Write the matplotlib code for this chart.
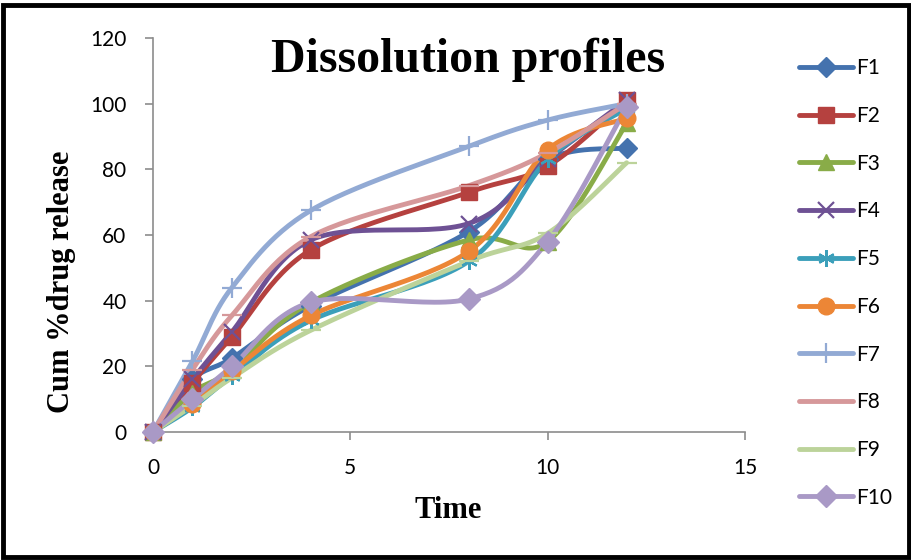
import numpy as np
import matplotlib
matplotlib.use('Agg')
import matplotlib.pyplot as plt
from matplotlib.patches import Rectangle
from matplotlib.lines import Line2D

# sampling times and cumulative % drug release per formulation
time = [0, 1, 2, 4, 8, 10, 12]
F1 = [0, 16, 22.5, 38.5, 61, 83, 86.5]
F2 = [0, 15, 29, 55.5, 73, 81, 101]
F3 = [0, 12, 19, 39.5, 58.5, 58, 94]
F4 = [0, 16, 30.5, 58.5, 63.5, 83, 101]
F5 = [0, 7.5, 17, 34, 52, 83, 98.5]
F6 = [0, 8.5, 18.5, 35.5, 55, 86, 95.5]
F7 = [0, 21.5, 44, 67.5, 87, 95, 100]
F8 = [0, 19, 35.5, 59.5, 75, 85, 100]
F9 = [0, 8, 16.5, 31, 52, 60.5, 82]
F10 = [0, 10, 20, 39.5, 40.5, 58, 99]

series = [('F1', F1), ('F2', F2), ('F3', F3), ('F4', F4), ('F5', F5),
          ('F6', F6), ('F7', F7), ('F8', F8), ('F9', F9), ('F10', F10)]

colors = ['#4472AE', '#B5413F', '#89AC48', '#6E5194', '#3B9FBA',
          '#EC8636', '#92AAD4', '#D6989A', '#BCD39A', '#A999C6']
markers = ['D', 's', '^', 'x', (6, 2, 0), 'o', '+', '_', '_', 'D']
msizes = [10, 12, 11, 11, 12, 12, 14, 14, 14, 11]


def smooth(x, y, n=30):
    """Excel-like smoothed line: Catmull-Rom through each point."""
    x = np.asarray(x, float)
    y = np.asarray(y, float)
    px = np.concatenate([[x[0]], x, [x[-1]]])
    py = np.concatenate([[y[0]], y, [y[-1]]])
    xs, ys = [], []
    t = np.linspace(0, 1, n)
    for i in range(1, len(px) - 2):
        p0, p1, p2, p3 = (np.array([px[j], py[j]]) for j in (i - 1, i, i + 1, i + 2))
        c1 = p1 + (p2 - p0) / 6.0
        c2 = p2 - (p3 - p1) / 6.0
        b = ((1 - t) ** 3)[:, None] * p1 + (3 * (1 - t) ** 2 * t)[:, None] * c1 \
            + (3 * (1 - t) * t ** 2)[:, None] * c2 + (t ** 3)[:, None] * p2
        xs.append(b[:, 0])
        ys.append(b[:, 1])
    return np.concatenate(xs), np.concatenate(ys)


fig = plt.figure(figsize=(9.12, 5.6), dpi=100)
ax = fig.add_axes([153 / 912, 1 - 432 / 560, (745 - 153) / 912, (432 - 38) / 560])

handles = []
for (name, vals), c, m, ms in zip(series, colors, markers, msizes):
    sx, sy = smooth(time, vals)
    ax.plot(sx, sy, color=c, lw=3.5, solid_capstyle='round', clip_on=False, zorder=2)
    mew = 1.6 if m in ('x', '+', '_') or isinstance(m, tuple) else 1
    ax.plot(time, vals, ls='none', marker=m, ms=ms, color=c, mec=c, mew=mew,
            clip_on=False, zorder=3)
    handles.append(Line2D([], [], color=c, lw=3.5, marker=m, ms=ms, mec=c, mew=mew,
                          solid_capstyle='round'))

ax.set_xlim(0, 15)
ax.set_ylim(0, 120)
ax.set_xticks([0, 5, 10, 15])
ax.set_yticks(range(0, 121, 20))
for s in ('top', 'right'):
    ax.spines[s].set_visible(False)
for s in ('left', 'bottom'):
    ax.spines[s].set_color('#8c8c8c')
    ax.spines[s].set_linewidth(1.2)
ax.tick_params(direction='out', length=6, width=1.2, color='#8c8c8c',
               labelsize=15)
ax.tick_params(axis='y', pad=13)
ax.tick_params(axis='x', pad=13)
for lab in ax.get_xticklabels() + ax.get_yticklabels():
    lab.set_family('Lato')

ax.set_xlabel('Time', family='Liberation Serif', weight='bold', fontsize=22)
ax.xaxis.set_label_coords((448 - 153) / 592, -(510 - 432) / 394)
ax.set_ylabel('Cum %drug release', family='Liberation Serif', weight='bold', fontsize=22)
ax.yaxis.set_label_coords(-(153 - 62) / 592, (432 - 282) / 394)
ax.xaxis.label.set_va('center')
ax.yaxis.label.set_va('center')
fig.text(468 / 912, 1 - 60 / 560, 'Dissolution profiles', family='Liberation Serif',
         weight='bold', fontsize=34.5, ha='center', va='center')

leg = fig.legend(handles, [s[0] for s in series], loc='upper left',
                 bbox_to_anchor=(791 / 912, 1 - 50 / 560), frameon=False,
                 prop={'family': 'Lato', 'size': 15}, handlelength=2.6,
                 labelspacing=1.33, handletextpad=0.15, borderaxespad=0)

fig.patches.append(Rectangle((3 / 912, 3 / 560), 906 / 912, 552 / 560, transform=fig.transFigure,
                             fill=False, lw=3.5, edgecolor='black'))

fig.savefig('out.png', dpi=100)
